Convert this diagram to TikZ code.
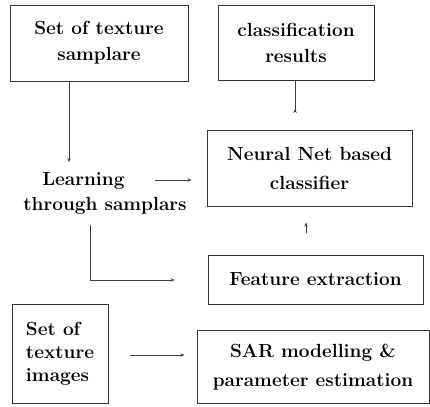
\documentclass[tikz,border=0pt]{standalone}
\usetikzlibrary{arrows.meta,decorations.markings}
\begin{document}
\begin{tikzpicture}[x=1pt,y=-1pt,
  box/.style={draw=black!80, line width=0.9pt, inner sep=0pt, align=center,
    font=\fontsize{19}{26}\selectfont\bfseries},
  lbl/.style={inner sep=0pt, font=\fontsize{19}{25}\selectfont\bfseries},
  conn/.style={draw=black!75, line width=0.8pt, -{Stealth[length=4pt,width=3.5pt]}}]
\useasboundingbox (0,0) rectangle (430,406);
\node[box, minimum width=178pt, minimum height=76pt] (b1) at (99,43) {Set of texture\\samplare};
\node[box, minimum width=156pt, minimum height=75pt] (b2) at (296,42.5) {classification\\results};
\node[box, minimum width=205pt, minimum height=76pt, font=\fontsize{19}{29}\selectfont\bfseries] (cls) at (309.5,168) {Neural Net based\\classifier};
\node[box, minimum width=215pt, minimum height=49pt] (feat) at (315.5,279.5) {Feature extraction};
\node[box, minimum width=232pt, minimum height=73pt, font=\fontsize{19}{29}\selectfont\bfseries] (sar) at (313,367) {SAR modelling \&\\parameter estimation};
\node[box, minimum width=96pt, minimum height=99pt, align=left, font=\fontsize{19}{23}\selectfont\bfseries] (img) at (60,353.5) {Set of\\texture\\images};
\node[lbl, align=left] (learn) at (105,193) {\hspace*{19pt}Learning\\through samplars};
\coordinate (lbot) at (90,225);
\coordinate (lcorner) at (90,280);
% connectors
\draw[conn] (b1.south -| 69,0) -- (69,162);
\draw[conn, shorten >=15pt] (155,180) -- (cls.west |- 0,180);
\draw[draw=black!75, line width=0.8pt] (lbot) -- (lcorner);
\draw[conn, shorten >=33pt] (lcorner) -- (feat.west |- lcorner);
\draw[conn, shorten <=22pt, shorten >=12pt] (img.east |- 0,355) -- (sar.west |- 0,355);
\draw[conn, shorten <=22pt, shorten >=16pt] (feat.north -| 306,0) -- (cls.south -| 306,0);
\draw[draw=black!75, line width=0.8pt, shorten <=18pt,
  postaction={decorate}, decoration={markings, mark=at position 0.42 with {\arrow{Stealth[length=4pt,width=3.5pt]}}}]
  (cls.north -| 295,0) -- (b2.south -| 295,0);
\end{tikzpicture}
\end{document}
